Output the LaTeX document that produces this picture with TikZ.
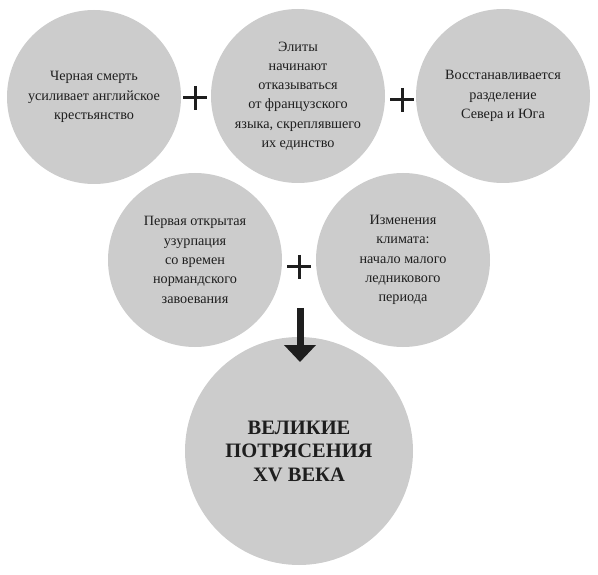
\documentclass[tikz,border=0pt]{standalone}
\usepackage{fontspec}
\setmainfont{Liberation Serif}
\usetikzlibrary{arrows.meta}
\definecolor{bubblecol}{RGB}{204,204,204}
\definecolor{inkcol}{RGB}{30,30,30}
\tikzset{
  % grey cause circle
  bubble/.style={circle, fill=bubblecol, minimum size=174pt, inner sep=0pt,
                 align=center, text=inkcol, font=\fontsize{14.2}{19.3}\selectfont},
  % big result circle
  bigbubble/.style={bubble, minimum size=228pt, font=\fontsize{20.5}{23.5}\selectfont\bfseries},
  % plus sign between causes
  plussign/.style={minimum size=24pt, inner sep=0pt,
                   path picture={\draw[inkcol, line width=3pt]
                     (path picture bounding box.north) -- (path picture bounding box.south)
                     (path picture bounding box.west) -- (path picture bounding box.east);}},
  % thick down arrow
  bigarrow/.style={-{Triangle[width=31pt,length=17pt]}, line width=7pt, inkcol},
}
\begin{document}
\begin{tikzpicture}[x=1pt,y=-1pt]
  \useasboundingbox (0,0) rectangle (598,575);
  % top row
  \node[bubble] (death) at (94,97) {Черная смерть\\усиливает английское\\крестьянство};
  \node[bubble] (elite) at (298,96) {Элиты\\начинают\\отказываться\\от французского\\языка, скреплявшего\\их единство};
  \node[bubble] (split) at (503,96) {Восстанавливается\\разделение\\Севера и Юга};
  % middle row
  \node[bubble] (usurp) at (195,260) {Первая открытая\\узурпация\\со времен\\нормандского\\завоевания};
  \node[bubble] (climate) at (403,260) {Изменения\\климата:\\начало малого\\ледникового\\периода};
  % result
  \node[bigbubble] (result) at (299,451) {ВЕЛИКИЕ\\ПОТРЯСЕНИЯ\\XV ВЕКА};
  % plus signs
  \node[plussign] (plusa) at (195,98) {};
  \node[plussign] (plusb) at (402,100) {};
  \node[plussign] (plusc) at (299,267) {};
  % arrow
  \coordinate (arrtop) at (300,308);
  \coordinate (arrtip) at (300,362);
  \draw[bigarrow] (arrtop) -- (arrtip);
\end{tikzpicture}
\end{document}
